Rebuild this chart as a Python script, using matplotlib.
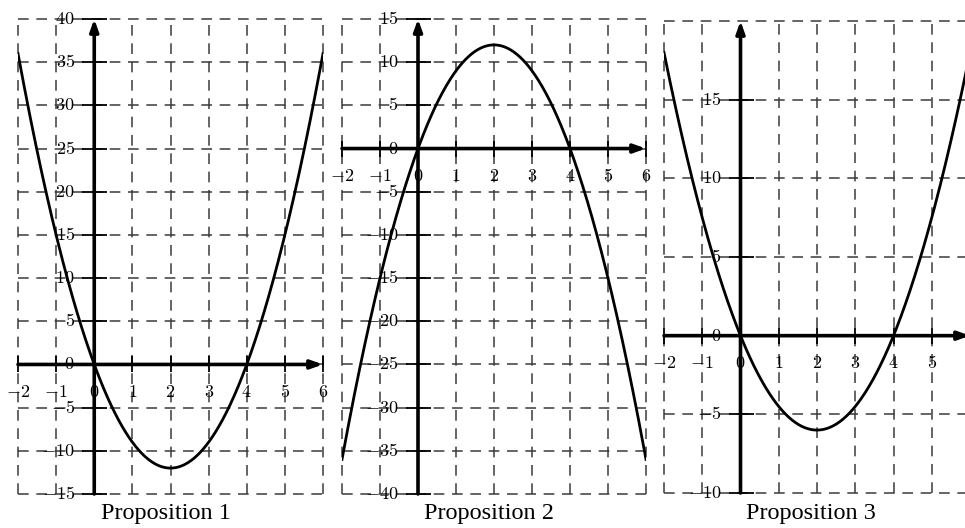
import numpy as np
import matplotlib.pyplot as plt

plt.rcParams['mathtext.fontset'] = 'cm'

# === Data ===
x_pts = [-2, -1, 0, 1, 2, 3, 4, 5, 6]
p1_y = [36, 15, 0, -9, -12, -9, 0, 15, 36]
p2_y = [-36, -15, 0, 9, 12, 9, 0, -15, -36]
p3_y = [18, 7.5, 0, -4.5, -6, -4.5, 0, 7.5, 18]

p1_yticks = [40, 35, 30, 25, 20, 15, 10, 5, 0, -5, -10, -15]
p2_yticks = [15, 10, 5, 0, -5, -10, -15, -20, -25, -30, -35, -40]
p3_yticks = [15, 10, 5, 0, -5, -10]
p12_xticks = [-2, -1, 0, 1, 2, 3, 4, 5, 6]
p3_xticks = [-2, -1, 0, 1, 2, 3, 4, 5]
p3_ygrid = [-10, -5, 0, 5, 10, 15, 20]

titles = ["Proposition 1", "Proposition 2", "Proposition 3"]

W, H = 965, 528
fig = plt.figure(figsize=(W / 100, H / 100), dpi=100)


def panel(px_left, px_top, px_right, px_bottom, ylim, ys, xticks, yticks, ygrid, title, title_x):
    ax = fig.add_axes([px_left / W, 1 - px_bottom / H,
                       (px_right - px_left) / W, (px_bottom - px_top) / H])
    ax.set_xlim(-2, 6)
    ax.set_ylim(*ylim)
    ax.set_axis_off()

    # dashed grid (also makes the dashed border)
    for gx in range(-2, 7):
        ax.plot([gx, gx], ylim, color="#3a3a3a", lw=1.1, dashes=(7, 5), clip_on=False, zorder=1)
    for gy in ygrid:
        ax.plot([-2, 6], [gy, gy], color="#3a3a3a", lw=1.1, dashes=(7, 5), clip_on=False, zorder=1)

    # axes with arrows
    ax.annotate("", xy=(6, 0), xytext=(-2, 0),
                arrowprops=dict(arrowstyle="-|>,head_length=0.7,head_width=0.25",
                                lw=2.6, color="black", shrinkA=0, shrinkB=0),
                annotation_clip=False, zorder=3)
    ax.annotate("", xy=(0, ylim[1]), xytext=(0, ylim[0]),
                arrowprops=dict(arrowstyle="-|>,head_length=0.7,head_width=0.25",
                                lw=2.6, color="black", shrinkA=0, shrinkB=0),
                annotation_clip=False, zorder=3)

    # ticks and labels
    ax.plot(xticks, [0] * len(xticks), ls="none", marker="|", ms=12, mew=1.3,
            color="black", clip_on=False, zorder=3)
    ax.plot([0] * len(yticks), yticks, ls="none", marker="_", ms=18, mew=1.3,
            color="black", clip_on=False, zorder=3)
    for v in xticks:
        ax.annotate(rf"$\mathbf{{{v}}}$", (v, 0), xytext=(0, -20), textcoords="offset points",
                    ha="center", va="center", fontsize=13, zorder=4)
    for v in yticks:
        ax.annotate(rf"$\mathbf{{{v}}}$", (0, v), xytext=(-14, 0), textcoords="offset points",
                    ha="right", va="center", fontsize=13, zorder=4)

    # curve (quadratic fitted through the read points)
    coef = np.polyfit(x_pts, ys, 2)
    xs = np.linspace(-2, 6, 400)
    ax.plot(xs, np.polyval(coef, xs), color="black", lw=2.0, zorder=2)

    fig.text(title_x / W, 1 - 514 / H, title, ha="center", va="center",
             fontsize=17.5, family="Liberation Serif")
    return ax


panel(18, 19, 323, 494, (-15, 40), p1_y, p12_xticks, p1_yticks, p1_yticks, titles[0], 166)
panel(342, 19, 646, 494, (-40, 15), p2_y, p12_xticks, p2_yticks, p2_yticks, titles[1], 489)
panel(664, 21, 970, 493, (-10, 20), p3_y, p3_xticks, p3_yticks, p3_ygrid, titles[2], 811)

plt.savefig("out.png", dpi=100)
